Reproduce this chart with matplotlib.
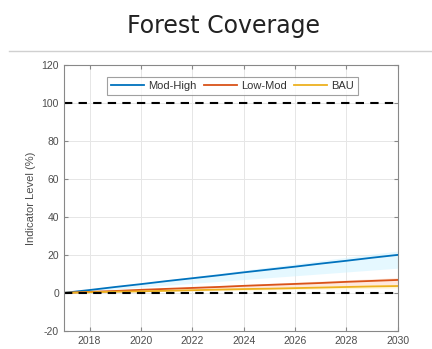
import numpy as np
import matplotlib
matplotlib.use("Agg")
import matplotlib.pyplot as plt

plt.rcParams["axes.unicode_minus"] = False

# data
years = [2017, 2018, 2019, 2020, 2021, 2022, 2023, 2024, 2025, 2026, 2027, 2028, 2029, 2030]
mod_high = [0, 1.5, 3.1, 4.6, 6.2, 7.7, 9.2, 10.8, 12.3, 13.8, 15.4, 16.9, 18.5, 20.0]
low_mod = [0, 0.5, 1.0, 1.6, 2.1, 2.6, 3.1, 3.7, 4.2, 4.7, 5.2, 5.8, 6.3, 6.8]
bau = [0, 0.3, 0.6, 0.8, 1.1, 1.4, 1.7, 2.0, 2.2, 2.5, 2.8, 3.1, 3.4, 3.6]
# light uncertainty bands around each scenario
mod_high_lo = [0, 1.0, 2.0, 3.0, 4.0, 5.0, 6.0, 7.0, 8.0, 9.0, 10.0, 11.0, 12.0, 13.0]
mod_high_hi = [0, 1.7, 3.4, 5.1, 6.8, 8.5, 10.2, 11.9, 13.6, 15.3, 17.0, 18.7, 20.4, 22.0]
low_mod_lo = [0, 0.3, 0.7, 1.0, 1.4, 1.7, 2.1, 2.4, 2.8, 3.1, 3.5, 3.8, 4.2, 4.5]
low_mod_hi = [0, 0.6, 1.2, 1.9, 2.5, 3.1, 3.7, 4.3, 5.0, 5.6, 6.2, 6.8, 7.4, 8.0]
bau_lo = [0, 0.2, 0.4, 0.6, 0.8, 1.0, 1.2, 1.4, 1.6, 1.8, 2.0, 2.2, 2.4, 2.6]
bau_hi = [0, 0.35, 0.7, 1.0, 1.4, 1.7, 2.1, 2.4, 2.8, 3.1, 3.5, 3.8, 4.2, 4.5]
targets = [100, 0]

c_blue = "#0072BD"
c_orange = "#D95319"
c_yellow = "#EDB120"
tick_col = "#4d4d4d"

fig = plt.figure(figsize=(4.32, 3.49), dpi=100)
fig.text(0.517, 0.925, "Forest Coverage", ha="center", va="center",
         fontsize=17, family="DejaVu Sans", color="#222222")
fig.add_artist(plt.Line2D([0.02, 1.0], [0.854, 0.854], color="#d0d0d0", lw=1))

ax = fig.add_axes([0.148, 0.052, 0.773, 0.762])

ax.fill_between(years, mod_high_lo, mod_high_hi, color="#ccf2ff", alpha=0.5, lw=0)
ax.fill_between(years, low_mod_lo, low_mod_hi, color="#ffd9c7", alpha=0.6, lw=0)
ax.fill_between(years, bau_lo, bau_hi, color="#fff0b8", alpha=0.6, lw=0)

ax.plot(years, mod_high, color=c_blue, lw=1.3, label="Mod-High")
ax.plot(years, low_mod, color=c_orange, lw=1.3, label="Low-Mod")
ax.plot(years, bau, color=c_yellow, lw=1.3, label="BAU")

for t in targets:
    ax.axhline(t, color="black", lw=1.5, ls=(0, (4, 3)))

ax.set_xlim(2017, 2030)
ax.set_ylim(-20, 120)
ax.set_xticks(range(2018, 2031, 2))
ax.set_yticks(range(-20, 121, 20))
ax.grid(True, color="#e6e6e6", lw=0.7)
ax.set_axisbelow(True)
ax.tick_params(direction="in", length=3, labelsize=7.5, colors="#888888",
               labelcolor=tick_col, top=True, right=True)
for lab in ax.get_xticklabels() + ax.get_yticklabels():
    lab.set_family("Liberation Sans")
for s in ax.spines.values():
    s.set_color("#888888")
    s.set_linewidth(0.8)
ax.set_ylabel("Indicator Level (%)", fontsize=8, color=tick_col, labelpad=4,
              family="Liberation Sans")

leg = ax.legend(loc="upper center", ncol=3, frameon=True,
                prop={"family": "Liberation Sans", "size": 8},
                fancybox=False, edgecolor="#888888", handlelength=3,
                columnspacing=0.6, handletextpad=0.4, borderpad=0.35,
                bbox_to_anchor=(0.505, 0.975))
for txt in leg.get_texts():
    txt.set_color("#333333")
leg.get_frame().set_linewidth(0.8)

fig.savefig("out.png", dpi=100)
